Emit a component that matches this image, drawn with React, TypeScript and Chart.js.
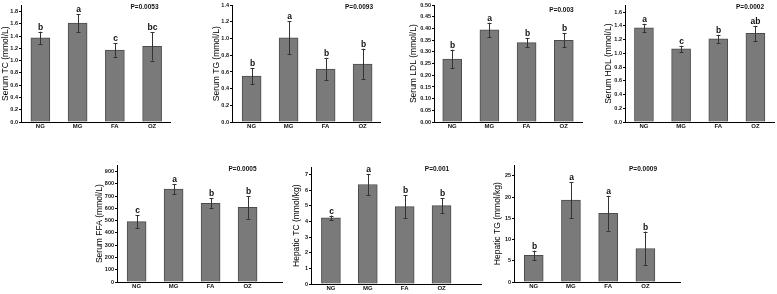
import React, { useEffect, useRef } from "react";
import { Chart, registerables } from "chart.js";

Chart.register(...registerables);

const FONT = "'Liberation Sans', Arial, sans-serif";

const groups = ["NG", "MG", "FA", "OZ"];

const serumTC = [1.37, 1.61, 1.17, 1.23];
const serumTCErr = [0.1, 0.145, 0.11, 0.23];
const serumTCSig = ["b", "a", "c", "bc"];

const serumTG = [0.55, 1.01, 0.635, 0.695];
const serumTGErr = [0.095, 0.2, 0.135, 0.185];
const serumTGSig = ["b", "a", "b", "b"];

const serumLDL = [0.27, 0.395, 0.34, 0.35];
const serumLDLErr = [0.04, 0.031, 0.02, 0.03];
const serumLDLSig = ["b", "a", "b", "b"];

const serumHDL = [1.37, 1.065, 1.21, 1.29];
const serumHDLErr = [0.06, 0.045, 0.06, 0.11];
const serumHDLSig = ["a", "c", "b", "ab"];

const serumFFA = [492, 757, 640, 607];
const serumFFAErr = [52, 40, 40, 93];
const serumFFASig = ["c", "a", "b", "b"];

const hepaticTC = [4.22, 6.35, 4.94, 5.0];
const hepaticTCErr = [0.15, 0.68, 0.72, 0.48];
const hepaticTCSig = ["c", "a", "b", "b"];

const hepaticTG = [6.3, 19.3, 16.2, 7.9];
const hepaticTGErr = [1.1, 4.2, 4.1, 4.0];
const hepaticTGSig = ["b", "a", "a", "b"];

const pValues = ["P=0.0053", "P=0.0093", "P=0.003", "P=0.0002", "P=0.0005", "P=0.001", "P=0.0009"];
const yTitles = [
  "Serum TC (mmol/L)",
  "Serum TG (mmol/L)",
  "Serum LDL (mmol/L)",
  "Serum HDL (mmol/L)",
  "Serum FFA (mmol/L)",
  "Hepatic TC (mmol/kg)",
  "Hepatic TG (mmol/kg)",
];
const yMaxes = [1.9, 1.4, 0.5, 1.7, 950, 7.45, 27.5];
const ySteps = [0.2, 0.2, 0.05, 0.2, 100, 1, 5];
const yDecimals = [1, 1, 2, 1, 0, 0, 0];

type Panel = {
  values: number[];
  errs: number[];
  sig: string[];
  idx: number;
  L: number; R: number; T: number; B: number;
  xMin: number; xMax: number;
  titleOff: number;
  pX: number; pY: number;
};

const YW = 26;
const XH = 12;
const PT = 4;
const PR = 4;
const TITLE_SIZE = 8.5;

const panels: Panel[] = [
  { values: serumTC, errs: serumTCErr, sig: serumTCSig, idx: 0, L: 21, R: 170, T: 5, B: 122, xMin: -0.52, xMax: 3.48, titleOff: 15.5, pX: 144.5, pY: 7.5 },
  { values: serumTG, errs: serumTGErr, sig: serumTGSig, idx: 1, L: 232, R: 380, T: 5, B: 122, xMin: -0.53, xMax: 3.47, titleOff: 15.3, pX: 359, pY: 7.5 },
  { values: serumLDL, errs: serumLDLErr, sig: serumLDLSig, idx: 2, L: 434, R: 582, T: 5, B: 122, xMin: -0.49, xMax: 3.49, titleOff: 20, pX: 561.5, pY: 10 },
  { values: serumHDL, errs: serumHDLErr, sig: serumHDLSig, idx: 3, L: 625, R: 774, T: 5, B: 122, xMin: -0.51, xMax: 3.5, titleOff: 16.3, pX: 750, pY: 7.5 },
  { values: serumFFA, errs: serumFFAErr, sig: serumFFASig, idx: 4, L: 117, R: 282, T: 165, B: 282, xMin: -0.53, xMax: 3.93, titleOff: 17, pX: 242.5, pY: 169.5 },
  { values: hepaticTC, errs: hepaticTCErr, sig: hepaticTCSig, idx: 5, L: 311, R: 481, T: 167, B: 284, xMin: -0.54, xMax: 4.07, titleOff: 14, pX: 437, pY: 169.5 },
  { values: hepaticTG, errs: hepaticTGErr, sig: hepaticTGSig, idx: 6, L: 514, R: 680, T: 165, B: 282, xMin: -0.53, xMax: 3.93, titleOff: 16, pX: 643, pY: 169.5 },
];

function PanelChart({ p }: { p: Panel }) {
  const ref = useRef<HTMLCanvasElement | null>(null);
  const left = p.L - YW;
  const top = p.T - PT;
  const width = p.R - p.L + YW + PR;
  const height = p.B - p.T + PT + XH;

  useEffect(() => {
    if (!ref.current) return;
    const overlay = {
      id: "overlay" + p.idx,
      afterDatasetsDraw(chart: any) {
        const { ctx } = chart;
        const xs = chart.scales.x;
        const ys = chart.scales.y;
        ctx.save();
        p.values.forEach((v, i) => {
          const x = Math.round(xs.getPixelForValue(i)) + 0.5;
          const yt = ys.getPixelForValue(v + p.errs[i]);
          const yb = ys.getPixelForValue(v - p.errs[i]);
          ctx.strokeStyle = "#333";
          ctx.lineWidth = 1;
          ctx.beginPath();
          ctx.moveTo(x, yt);
          ctx.lineTo(x, yb);
          ctx.moveTo(x - 2, Math.round(yt) + 0.5);
          ctx.lineTo(x + 2, Math.round(yt) + 0.5);
          ctx.moveTo(x - 2, Math.round(yb) + 0.5);
          ctx.lineTo(x + 2, Math.round(yb) + 0.5);
          ctx.stroke();
          ctx.fillStyle = "#111";
          ctx.font = "bold 8.5px " + FONT;
          ctx.textAlign = "center";
          ctx.textBaseline = "alphabetic";
          ctx.fillText(p.sig[i], x, yt - 2);
        });
        ctx.fillStyle = "#111";
        ctx.font = "bold 6.5px " + FONT;
        ctx.textAlign = "center";
        ctx.textBaseline = "middle";
        ctx.fillText(pValues[p.idx], p.pX - left, p.pY - top);
        ctx.restore();
      },
    };

    const chart = new Chart(ref.current, {
      type: "bar",
      data: {
        datasets: [
          {
            data: p.values.map((v, i) => ({ x: i, y: v })),
            backgroundColor: "#7a7a7a",
            borderColor: "#4c4c4c",
            borderWidth: 1,
            barThickness: 19,
          } as any,
        ],
      },
      options: {
        animation: false,
        responsive: false,
        maintainAspectRatio: false,
        layout: { padding: { top: PT, right: PR, left: 0, bottom: 0 } },
        plugins: { legend: { display: false }, tooltip: { enabled: false } },
        scales: {
          x: {
            type: "linear",
            offset: false,
            min: p.xMin,
            max: p.xMax,
            afterBuildTicks: (s: any) => {
              s.ticks = groups.map((_, i) => ({ value: i }));
            },
            afterFit: (s: any) => {
              s.height = XH;
            },
            grid: { display: false, drawTicks: false, offset: false },
            border: { display: true, color: "#000", width: 1 },
            ticks: {
              padding: 1,
              autoSkip: false,
              maxRotation: 0,
              color: "#111",
              font: { family: FONT, size: 6, weight: "bold" },
              callback: (_v: any, i: number) => groups[i],
            },
          },
          y: {
            type: "linear",
            min: 0,
            max: yMaxes[p.idx],
            afterFit: (s: any) => {
              s.width = YW;
            },
            grid: {
              display: true,
              drawOnChartArea: false,
              drawTicks: true,
              tickLength: 2,
              color: "#000",
              lineWidth: 1,
            },
            border: { display: true, color: "#000", width: 1 },
            title: {
              display: true,
              text: yTitles[p.idx],
              color: "#000",
              font: { family: FONT, size: TITLE_SIZE, weight: "normal" },
              padding: { top: YW - (TITLE_SIZE * 1.2) / 2 - p.titleOff, bottom: 0 },
            },
            ticks: {
              stepSize: ySteps[p.idx],
              includeBounds: false,
              padding: 1,
              color: "#111",
              font: { family: FONT, size: 5.5, weight: "bold" },
              callback: (v: any) => Number(v).toFixed(yDecimals[p.idx]),
            },
          },
        },
      } as any,
      plugins: [overlay],
    });
    return () => chart.destroy();
  }, []);

  return (
    <canvas
      ref={ref}
      width={width}
      height={height}
      style={{ position: "absolute", left, top, width, height }}
    />
  );
}

export default function App() {
  return (
    <div
      style={{
        position: "absolute",
        left: 0,
        top: 0,
        width: 777,
        height: 294,
        background: "#fff",
        overflow: "hidden",
      }}
    >
      {panels.map((p) => (
        <PanelChart key={p.idx} p={p} />
      ))}
    </div>
  );
}
